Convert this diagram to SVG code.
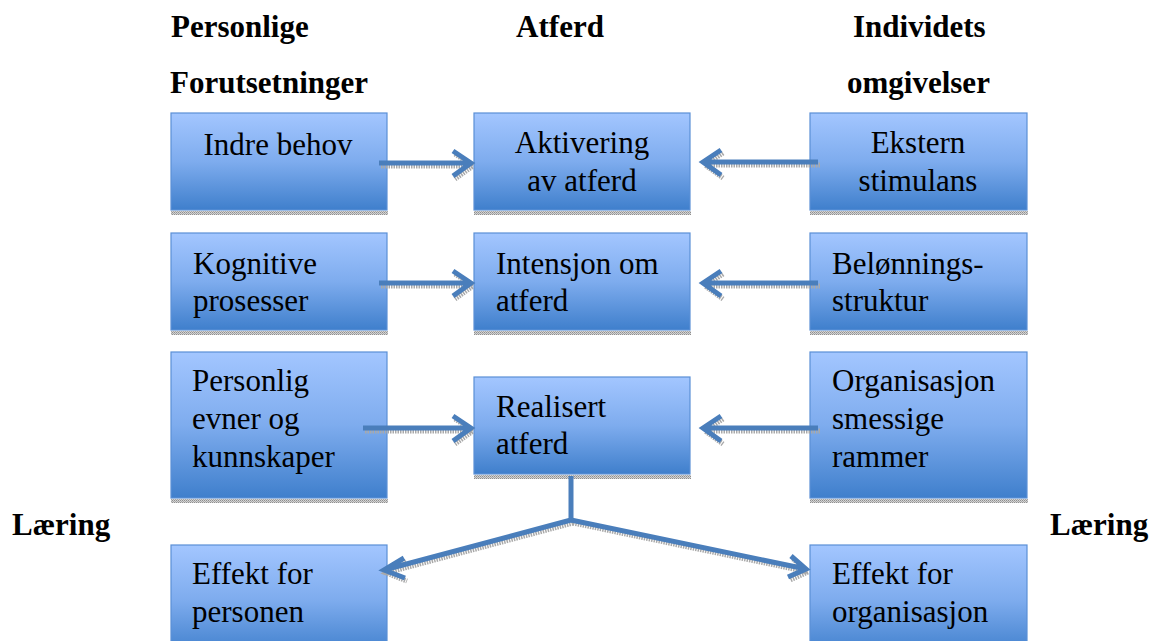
<svg xmlns="http://www.w3.org/2000/svg" width="1155" height="641" viewBox="0 0 1155 641">
  <defs>
    <linearGradient id="boxFill" x1="0" y1="0" x2="0" y2="1">
      <stop offset="0" stop-color="#a3c6ff"/>
      <stop offset="0.5" stop-color="#7eacee"/>
      <stop offset="1" stop-color="#3f7fcc"/>
    </linearGradient>
    <pattern id="shadowDots" width="2" height="2" patternUnits="userSpaceOnUse">
      <rect width="2" height="2" fill="#d4d4d4"/>
      <rect width="1" height="1" fill="#8f8f8f"/>
      <rect x="1" y="1" width="1" height="1" fill="#a8a8a8"/>
    </pattern>
    <style>
      .box { fill: url(#boxFill); stroke: #5a8fd6; stroke-width: 1.2; }
      .shadow { fill: url(#shadowDots); }
      .label { font-family: "Liberation Serif", "Times New Roman", serif; font-size: 31px; fill: #000; }
      .mid { text-anchor: middle; }
      .head { font-family: "Liberation Serif", "Times New Roman", serif; font-size: 31px; font-weight: bold; fill: #000; }
      .conn { fill: none; stroke: #4a7ebb; stroke-width: 5; stroke-linejoin: miter; }
      .connShadow { fill: none; stroke: #a9a9a9; stroke-width: 5; stroke-dasharray: 1.5 1; }
    </style>
  </defs>

  <rect width="1155" height="641" fill="#ffffff"/>

  <!-- column headings -->
  <g id="headings">
    <text class="head" x="171" y="37">Personlige</text>
    <text class="head" x="170" y="93">Forutsetninger</text>
    <text class="head" x="560" y="37" text-anchor="middle">Atferd</text>
    <text class="head" x="853" y="37">Individets</text>
    <text class="head" x="847" y="93">omgivelser</text>
    <text class="head" x="12" y="535">Læring</text>
    <text class="head" x="1050" y="535">Læring</text>
  </g>

  <!-- row 1 -->
  <g id="indre-behov">
    <rect class="shadow" x="171" y="211" width="217" height="4"/>
    <rect class="box" x="171" y="113" width="216" height="97"/>
    <text class="label mid" x="278" y="155">Indre behov</text>
  </g>
  <g id="aktivering">
    <rect class="shadow" x="474" y="211" width="217" height="4"/>
    <rect class="box" x="474" y="113" width="216" height="97"/>
    <text class="label mid" x="582" y="153">Aktivering</text>
    <text class="label mid" x="582" y="191">av atferd</text>
  </g>
  <g id="ekstern-stimulans">
    <rect class="shadow" x="810" y="211" width="218" height="4"/>
    <rect class="box" x="810" y="113" width="217" height="97"/>
    <text class="label mid" x="918" y="153">Ekstern</text>
    <text class="label mid" x="918" y="191">stimulans</text>
  </g>

  <!-- row 2 -->
  <g id="kognitive-prosesser">
    <rect class="shadow" x="171" y="331" width="217" height="4"/>
    <rect class="box" x="171" y="233" width="216" height="97"/>
    <text class="label" x="193" y="274">Kognitive</text>
    <text class="label" x="193" y="311">prosesser</text>
  </g>
  <g id="intensjon">
    <rect class="shadow" x="474" y="331" width="217" height="4"/>
    <rect class="box" x="474" y="233" width="216" height="97"/>
    <text class="label" x="496" y="274">Intensjon om</text>
    <text class="label" x="496" y="311">atferd</text>
  </g>
  <g id="belonningsstruktur">
    <rect class="shadow" x="810" y="331" width="218" height="4"/>
    <rect class="box" x="810" y="233" width="217" height="97"/>
    <text class="label" x="832" y="274">Belønnings-</text>
    <text class="label" x="832" y="311">struktur</text>
  </g>

  <!-- row 3 -->
  <g id="personlig-evner">
    <rect class="shadow" x="171" y="499" width="217" height="4"/>
    <rect class="box" x="171" y="352" width="216" height="146"/>
    <text class="label" x="192" y="391">Personlig</text>
    <text class="label" x="192" y="429">evner og</text>
    <text class="label" x="192" y="467">kunnskaper</text>
  </g>
  <g id="realisert-atferd">
    <rect class="shadow" x="474" y="475" width="217" height="4"/>
    <rect class="box" x="474" y="377" width="216" height="97"/>
    <text class="label" x="496" y="417">Realisert</text>
    <text class="label" x="496" y="454">atferd</text>
  </g>
  <g id="organisasjonsmessige-rammer">
    <rect class="shadow" x="810" y="499" width="218" height="4"/>
    <rect class="box" x="810" y="352" width="217" height="146"/>
    <text class="label" x="832" y="391">Organisasjon</text>
    <text class="label" x="832" y="429">smessige</text>
    <text class="label" x="832" y="467">rammer</text>
  </g>

  <!-- row 4 -->
  <g id="effekt-personen">
    <rect class="box" x="171" y="545" width="216" height="110"/>
    <text class="label" x="192" y="584">Effekt for</text>
    <text class="label" x="192" y="622">personen</text>
  </g>
  <g id="effekt-organisasjon">
    <rect class="box" x="810" y="545" width="217" height="110"/>
    <text class="label" x="832" y="584">Effekt for</text>
    <text class="label" x="832" y="622">organisasjon</text>
  </g>

  <!-- connectors, drawn over the box edges -->
  <g id="connectors">
    <g class="connShadow" transform="translate(2,3)">
      <path d="M379 163 H470 M453 151 L471 163 L453 176"/>
      <path d="M818 162 H703 M721 150 L703 162 L721 175"/>
      <path d="M379 283 H470 M453 271 L471 283 L453 296"/>
      <path d="M818 283 H703 M721 271 L703 283 L721 296"/>
      <path d="M363 428 H470 M453 416 L471 428 L453 441"/>
      <path d="M818 428 H703 M721 416 L703 428 L721 441"/>
      <path d="M571 520 L384 570 M404 558 L384 570 L405 578"/>
      <path d="M571 520 L806 569 M791 556 L806 569 L788 577"/>
    </g>
    <g class="conn">
      <path d="M379 163 H470 M453 151 L471 163 L453 176"/>
      <path d="M818 162 H703 M721 150 L703 162 L721 175"/>
      <path d="M379 283 H470 M453 271 L471 283 L453 296"/>
      <path d="M818 283 H703 M721 271 L703 283 L721 296"/>
      <path d="M363 428 H470 M453 416 L471 428 L453 441"/>
      <path d="M818 428 H703 M721 416 L703 428 L721 441"/>
      <path d="M571 476 V520 L384 570 M404 558 L384 570 L405 578"/>
      <path d="M571 520 L806 569 M791 556 L806 569 L788 577"/>
    </g>
  </g>
</svg>
